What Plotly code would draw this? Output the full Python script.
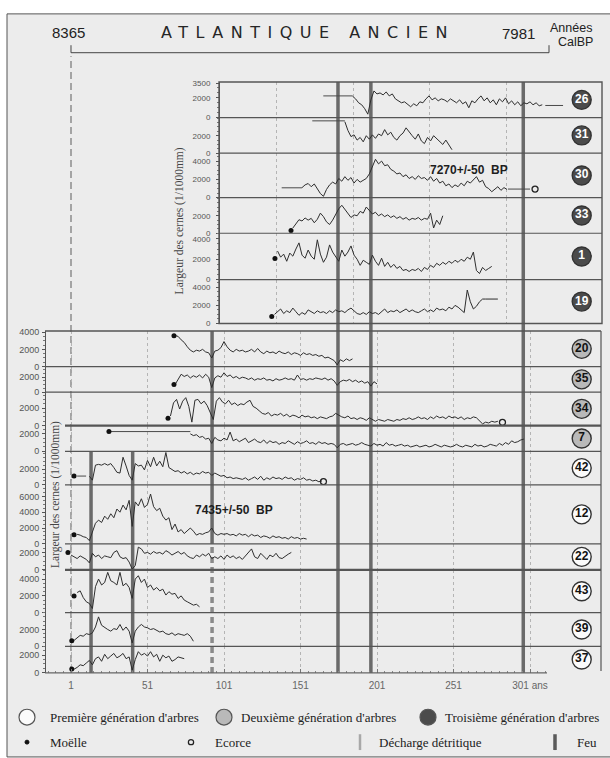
import plotly.graph_objects as go

# ---------------------------------------------------------------- data
# Ring-width series (1/1000 mm), one value every 2 years starting at *_start
w26_start = 185
w26 = [2170, 1900, 1500, 1300, 900, 350, 1800, 2700, 2400, 2500, 2300, 2600, 2200, 2400, 1900, 1700,
       1500, 1600, 1300, 1100, 1400, 1200, 1600, 1500, 1900, 2200, 1800, 2000, 1700, 1900, 1800, 1600,
       1900, 1700, 1500, 1800, 1400, 1600, 1000, 1700, 1500, 1900, 2200, 1700, 2000, 1500, 1800, 1300,
       1900, 1600, 2000, 1400, 1700, 1300, 1600, 1200, 1500, 1400, 1600, 1300, 1500, 1200, 1300]
w31_start = 180
w31 = [3600, 2600, 1900, 2100, 1500, 1800, 1300, 2000, 1600, 2100, 1700, 2200, 2000, 2700, 2100, 2400,
       1800, 1500, 2000, 2300, 2900, 2400, 2000, 1600, 2200, 1400, 1100, 1800, 1400, 2000, 1700, 1300,
       1000, 1500, 1000, 400]
w30_start = 152
w30 = [1100, 1400, 1550, 1200, 1500, 900, 450, 150, 900, 1400, 1700, 1500, 2100, 1800, 2300, 1900,
       2200, 1600, 2000, 1700, 1900, 2100, 2600, 3400, 4200, 3700, 4000, 3500, 3600, 3100, 2900, 2600,
       2700, 2300, 2500, 2100, 2300, 2000, 2400, 2100, 2200, 1900, 2300, 1800, 2100, 1600, 1800, 1300,
       1500, 1100, 1400, 1200, 1600, 1300, 1800, 1600, 2000, 2300, 1700, 1900, 1200, 1000, 650, 900,
       1200, 800, 1100, 900]
w33_start = 146
w33 = [600, 1100, 1550, 1400, 1750, 1500, 1700, 1200, 1600, 2300, 1900, 1300, 1000, 1500, 2200, 2800,
       3200, 2700, 2300, 1800, 2100, 2000, 2500, 2300, 3000, 2600, 2200, 2400, 2000, 2200, 1900, 2100,
       1800, 2000, 1700, 1900, 1600, 1800, 1500, 1700, 1600, 1800, 1500, 1700, 1600, 2300, 600, 1500,
       1000, 2000]
w1_start = 136
w1 = [2800, 2200, 2500, 1800, 2600, 2300, 3000, 3600, 2400, 2100, 2900, 2300, 2000, 3900, 2500, 1700,
      2200, 3400, 2700, 2200, 1800, 2900, 2300, 2700, 3300, 2400, 2000, 1400, 1900, 1700, 1500, 2400,
      1800, 1400, 2100, 1300, 1700, 1200, 1500, 1100, 1300, 900, 1000, 800, 1000, 900, 1100, 800,
      1200, 1000, 1400, 1200, 1600, 1400, 1700, 1500, 1800, 1600, 1900, 1700, 2000, 1800, 2200, 2000,
      2700, 900, 600, 1200, 900, 1100, 1300]
w19_start = 134
w19 = [1000, 1300, 1600, 1100, 1400, 1200, 1700, 1300, 900, 1200, 1000, 1500, 1300, 1100, 1400, 1200,
       1300, 1100, 1400, 1200, 1500, 1300, 1400, 1200, 1500, 1700, 1400, 1100, 1000, 1200, 1000, 1300,
       1100, 1200, 1000, 1300, 1600, 1200, 1400, 1300, 1500, 1200, 1400, 1600, 1300, 1500, 1300, 1200,
       1400, 1600, 1300, 1500, 1300, 1700, 1500, 1600, 1400, 1800, 1600, 2000, 1800, 1500, 1200, 3700,
       2400, 1600, 1900, 2400, 2700, 2700, 2700, 2700, 2700, 2700]
w20_start = 69
w20 = [3600, 3500, 3100, 2800, 2300, 1900, 1700, 1900, 1800, 2000, 1700, 1600, 1000, 1800, 1900, 2200,
       2900, 2300, 1900, 1700, 2000, 1800, 1900, 1700, 1800, 2000, 1700, 2100, 1700, 1500, 1800, 1600,
       1700, 1500, 1800, 1600, 1500, 1700, 1400, 1600, 1500, 1300, 1600, 1400, 1500, 1300, 1400, 1200,
       1300, 1000, 1100, 900, 700, 200, 800, 600, 900, 700, 900]
w35_start = 69
w35 = [1000, 1700, 2400, 2100, 2300, 1900, 2200, 2000, 2300, 1900, 2400, 2000, 600, 1900, 2200, 2000,
       2600, 2100, 2300, 1900, 2100, 1800, 2000, 1900, 1700, 1900, 1600, 1800, 1700, 1900, 1600, 1700,
       1500, 1800, 1600, 1700, 1900, 1700, 1800, 1600, 2300, 1700, 1800, 1600, 1800, 1700, 1900, 1800,
       1700, 1900, 1600, 1800, 1500, 900, 1400, 1600, 1500, 1700, 1400, 1600, 1300, 1500, 1200, 1400,
       800, 1400, 1100]
w34_start = 66
w34 = [1100, 2600, 3000, 1900, 2800, 3200, 2200, 400, 2900, 3000, 2500, 2800, 2300, 1500, 700, 2800,
       3200, 2700, 2500, 2900, 2400, 2600, 2300, 2500, 2400, 2700, 2900, 2200, 2000, 1700, 1400, 1300,
       1500, 1100, 1300, 1200, 1400, 1100, 1300, 1000, 1200, 1100, 900, 1200, 1000, 1100, 900, 1000,
       800, 1000, 900, 800, 1000, 1100, 1400, 1200, 1000, 900, 1100, 800, 900, 700, 900, 800,
       600, 900, 700, 500, 700, 600, 500, 700, 600, 500, 700, 600, 800, 700, 900, 700,
       800, 1000, 800, 900, 700, 1000, 800, 1100, 900, 1000, 800, 1100, 900, 1000, 800, 1000,
       700, 900, 800, 1000, 900, 600, 200, 400, 300, 500, 400, 500]
w7_start = 79
w7 = [2000, 1800, 1900, 1600, 1700, 1400, 1500, 900, 1600, 1300, 1200, 1500, 1300, 2200, 1200, 1400,
      1100, 1300, 1500, 1000, 1200, 1400, 1100, 1000, 1300, 900, 1200, 1000, 1100, 800, 1000, 900,
      1200, 1000, 800, 1100, 900, 1000, 1200, 900, 1000, 800, 1100, 900, 1000, 800, 900, 800,
      400, 800, 900, 700, 800, 900, 700, 800, 1000, 800, 700, 600, 900, 700, 800, 600,
      1000, 700, 800, 600, 700, 800, 600, 700, 500, 600, 700, 500, 600, 700, 500, 600,
      800, 600, 500, 700, 600, 500, 600, 800, 600, 500, 700, 600, 500, 800, 600, 700,
      500, 600, 800, 700, 600, 900, 700, 1000, 800, 1200, 1000, 1100, 1300, 1400]
w42_start = 13
w42 = [1100, 600, 2500, 2600, 2500, 2700, 2500, 2700, 2200, 1600, 1500, 3500, 2400, 1200, 600, 2700,
       2400, 2500, 1900, 3100, 2300, 3500, 2400, 3000, 2300, 4100, 2200, 2000, 1700, 1800, 1500, 1700,
       1400, 1600, 1300, 1500, 1400, 1700, 1500, 1600, 1200, 1500, 1300, 1100, 1200, 900, 1000, 800,
       900, 800, 700, 900, 600, 800, 1000, 700, 1100, 600, 900, 700, 1000, 800, 900, 700,
       1000, 800, 900, 600, 800, 700, 900, 600, 700, 500, 600, 400, 500]
w12_start = 5
w12 = [1200, 1100, 900, 800, 400, 1500, 2600, 3000, 2700, 3500, 3100, 3800, 3300, 4400, 4000, 4900,
       4300, 5500, 2200, 5300, 4800, 5700, 4600, 5000, 6300, 4700, 4200, 4500, 3500, 3000, 3300, 1800,
       2500, 1500, 1800, 1300, 1600, 2000, 1600, 1100, 1300, 1200, 1400, 1500, 2000, 1300, 1100, 1300,
       1200, 1300, 1100, 1200, 1000, 1300, 1100, 1200, 900, 1200, 1000, 1100, 800, 1000, 900, 700,
       1000, 800, 900, 700, 800, 600, 900, 700, 800, 600, 700, 600]
w22_start = 1
w22 = [1700, 1500, 1300, 1600, 1400, 1200, 800, 1900, 1500, 1700, 1300, 1600, 1500, 1400, 2000, 2200,
       1500, 1300, 1400, 900, 100, 500, 2600, 2400, 1900, 2000, 1800, 2100, 1900, 2000, 1800, 2200,
       2000, 1700, 1900, 2100, 1800, 2000, 1600, 1400, 1300, 1700, 1500, 1800, 1600, 1900, 1300, 1500,
       1300, 1600, 1200, 1700, 1400, 1600, 1300, 1500, 1200, 1600, 2000, 2400, 1500, 1300, 1900, 1600,
       1200, 1700, 1500, 1900, 1400, 1300, 1600, 1800, 2000]
w43_start = 5
w43 = [2400, 2600, 1800, 1300, 1100, 500, 3100, 4000, 3300, 3600, 4800, 3800, 3600, 3300, 4800, 3200,
       3500, 3000, 1700, 4000, 4400, 3600, 4000, 3000, 3300, 2700, 3000, 2600, 2800, 2100, 2500, 2200,
       2300, 1700, 2000, 1500, 1300, 1100, 900, 1000, 700]
w39_start = 3
w39 = [700, 1000, 1300, 1200, 1500, 1400, 1600, 2300, 3500, 2500, 2200, 2000, 1800, 2100, 2000, 2600,
       1900, 2300, 1800, 400, 1800, 2300, 2600, 2300, 2200, 2000, 2100, 1900, 1700, 1800, 1500, 1400,
       1600, 1300, 1500, 1400, 1300, 1500, 1200, 600]
w37_start = 3
w37 = [400, 600, 900, 800, 1100, 1400, 900, 1600, 1800, 1300, 2100, 1600, 1900, 2200, 1700, 1900,
       2200, 1600, 1800, 300, 1500, 2400, 2000, 2200, 1900, 2400, 1800, 2100, 1300, 2000, 1700, 1900,
       1300, 1500, 1800, 1700, 1600]

# pith (Moëlle) and bark (Ecorce) positions: tree, year, width
pith_trees = ['33', '1', '19', '20', '35', '34', '7', '42', '12', '22', '43', '39', '37']
pith_years = [144.8, 134.3, 132.2, 68.3, 68.3, 64.4, 25.8, 3.0, 3.0, -1.0, 3.0, 1.5, 1.5]
pith_vals = [300, 2070, 760, 3570, 1000, 840, 2260, 1120, 1160, 2000, 2000, 670, 420]
bark_trees = ['30', '34', '42']
bark_years = [304.3, 283.0, 166.0]
bark_vals = [940, 380, 425]

# estimated missing-ring extensions: tree, from year, to year, width
ext_trees = ['26', '26', '31', '30', '30', '7', '42']
ext_from = [165.9, 311.0, 158.7, 138.7, 286.6, 27.0, 5.0]
ext_to = [185.0, 322.6, 180.0, 152.0, 301.0, 79.0, 13.0]
ext_vals = [2200, 1230, 3700, 1080, 940, 2260, 1120]

# events (years): fires / detrital discharges
event_low_years = [14.1, 41.3]          # visible in first-generation rows
event_all_years = [175.5, 197.0, 296.6]  # visible across both panels
event_mid_years = [93.2]                 # lower panel

# radiocarbon dates
c14_trees = ['30', '12']
c14_text = ['7270+/-50\u00a0\u00a0BP', '7435+/-50\u00a0\u00a0BP']
c14_years = [234.3, 80.5]
c14_vals = [3030, 4325]

# x tick labels
x_tickvals = [1, 51, 101, 151, 201, 251, 301]
x_ticktext = ['1', '51', '101', '151', '201', '251', '301 ans']

# ---------------------------------------------------------------- layout helpers
W, H = 610, 758
def px(x):
    return x / W
def py(y):
    return 1 - y / H

X0_PX, PX_PER_YEAR = 71.0, 1.53
def year_at(xpx):
    return 1.0 + (xpx - X0_PX) / PX_PER_YEAR

SANS = "Liberation Sans, Arial, sans-serif"
SERIF = "Liberation Serif, Times New Roman, serif"
INK = "#2e2e2e"
BG = "#ececec"

# row layout: tree, panel, top px, bottom px, px per 1000 units, tick values, generation
rows = [
    ('20', 'low', 331.0, 367.0, 8.75, [0, 2000, 4000], 2),
    ('35', 'low', 367.0, 392.7, 7.5, [0, 2000], 2),
    ('34', 'low', 392.7, 426.7, 8.85, [0, 2000], 2),
    ('7', 'low', 426.7, 452.7, 8.85, [0, 2000], 2),
    ('42', 'low', 452.7, 486.7, 8.0, [0, 2000], 1),
    ('12', 'low', 486.7, 546.3, 8.0, [0, 2000, 4000, 6000], 1),
    ('22', 'low', 546.3, 572.7, 8.85, [0, 2000], 1),
    ('43', 'low', 572.7, 616.0, 8.5, [0, 2000, 4000], 1),
    ('39', 'low', 616.0, 650.0, 8.5, [0, 2000], 1),
    ('37', 'low', 650.0, 676.7, 8.85, [0, 2000], 1),
    ('26', 'top', 79.0, 115.0, 10.0, [0, 2000, 3500], 3),
    ('31', 'top', 115.0, 151.0, 8.85, [0, 2000], 3),
    ('30', 'top', 151.0, 196.0, 9.25, [0, 2000, 4000], 3),
    ('33', 'top', 196.0, 232.0, 8.85, [0, 2000], 3),
    ('1', 'top', 232.0, 279.0, 10.35, [0, 2000, 4000], 3),
    ('19', 'top', 279.0, 323.3, 9.15, [0, 2000, 4000], 3),
]

series = {
    '26': (w26_start, w26), '31': (w31_start, w31), '30': (w30_start, w30),
    '33': (w33_start, w33), '1': (w1_start, w1), '19': (w19_start, w19),
    '20': (w20_start, w20), '35': (w35_start, w35), '34': (w34_start, w34),
    '7': (w7_start, w7), '42': (w42_start, w42), '12': (w12_start, w12),
    '22': (w22_start, w22), '43': (w43_start, w43), '39': (w39_start, w39),
    '37': (w37_start, w37),
}

gen_fill = {1: '#fbfbfb', 2: '#b9b9b9', 3: '#4b4b4b'}
gen_text = {1: '#111111', 2: '#111111', 3: '#ffffff'}

fig = go.Figure()
layout = {}
axes = {}
ymax_of = {}
for i, (tid, panel, top, bot, ppk, tv, gen) in enumerate(rows, start=1):
    key = 'yaxis' if i == 1 else 'yaxis%d' % i
    ref = 'y' if i == 1 else 'y%d' % i
    ymax = (bot - top) / ppk * 1000.0
    ymax_of[tid] = ymax
    low = panel == 'low'
    layout[key] = dict(
        domain=[py(bot), py(top)], range=[0, ymax], anchor='free',
        position=px(45 if low else 219), side='left',
        showline=True, linecolor='#555555', linewidth=1,
        ticks='outside', ticklen=3, tickcolor='#555555',
        tickvals=tv, ticktext=[str(v) for v in tv],
        tickfont=dict(family=SANS, size=9 if low else 8, color='#555555'),
        ticklabelstandoff=1 if low else 4,
        minor=dict(tick0=0, dtick=500, ticks='outside', ticklen=2, tickcolor='#777777'),
        showgrid=False, zeroline=False, fixedrange=True,
    )
    axes[tid] = ('x' if low else 'x2', ref)

# series lines
for tid, (start, vals) in series.items():
    xa, ya = axes[tid]
    fig.add_trace(go.Scatter(
        x=[start + 2 * k for k in range(len(vals))], y=vals, mode='lines',
        line=dict(color=INK, width=1), xaxis=xa, yaxis=ya,
        hoverinfo='skip', showlegend=False))

# extension lines
for tid, a, b, v in zip(ext_trees, ext_from, ext_to, ext_vals):
    xa, ya = axes[tid]
    fig.add_trace(go.Scatter(
        x=[a, b], y=[v, v], mode='lines',
        line=dict(color='#4a4a4a', width=1, dash='dash' if tid == '42' else 'solid'),
        xaxis=xa, yaxis=ya, hoverinfo='skip', showlegend=False))

# pith markers
for tid, yr, v in zip(pith_trees, pith_years, pith_vals):
    xa, ya = axes[tid]
    fig.add_trace(go.Scatter(
        x=[yr], y=[v], mode='markers', marker=dict(color='#111111', size=5),
        xaxis=xa, yaxis=ya, hoverinfo='skip', showlegend=False))

# bark markers
for tid, yr, v in zip(bark_trees, bark_years, bark_vals):
    xa, ya = axes[tid]
    fig.add_trace(go.Scatter(
        x=[yr], y=[v], mode='markers',
        marker=dict(symbol='circle-open', color='#222222', size=6, line=dict(width=1.3)),
        xaxis=xa, yaxis=ya, hoverinfo='skip', showlegend=False))

# tree id circles
label_year = year_at(581.7)
for tid, panel, top, bot, ppk, tv, gen in rows:
    xa, ya = axes[tid]
    fig.add_trace(go.Scatter(
        x=[label_year], y=[ymax_of[tid] / 2], mode='markers+text',
        marker=dict(size=19, color=gen_fill[gen], line=dict(color='#333333', width=1.4)),
        text=['<b>%s</b>' % tid], textposition='middle center',
        textfont=dict(family=SANS, size=12, color=gen_text[gen]),
        xaxis=xa, yaxis=ya, hoverinfo='skip', showlegend=False))

# x axes
layout['xaxis'] = dict(
    domain=[px(45), px(601)], range=[year_at(45), year_at(601)], anchor='y10',
    tickvals=x_tickvals, ticktext=x_ticktext, ticks='inside', ticklen=4, tickcolor='#777777',
    tickfont=dict(family=SANS, size=10, color='#666666'), ticklabelstandoff=5,
    minor=dict(tickvals=list(range(-14, 312, 5)), ticks='inside', ticklen=2, tickcolor='#888888'),
    showgrid=True, gridcolor='#b4b4b4', griddash='3px,3px', gridwidth=1,
    showline=False, zeroline=False, fixedrange=True)
layout['xaxis2'] = dict(
    domain=[px(219), px(602)], range=[year_at(219), year_at(602)], anchor='y16',
    tickvals=[135.5, 185.5, 235.5, 285.5], showticklabels=False, ticks='',
    showgrid=True, gridcolor='#b4b4b4', griddash='3px,3px', gridwidth=1,
    showline=False, zeroline=False, fixedrange=True)

shapes = []
# frame background
shapes.append(dict(type='rect', xref='paper', yref='paper', x0=px(7), x1=px(615), y0=py(762), y1=py(10),
                   fillcolor=BG, line=dict(color='#555555', width=1), layer='below'))
# event lines
EV = '#6a6a6a'
for yr in event_all_years:
    shapes.append(dict(type='line', xref='x', yref='paper', x0=yr, x1=yr, y0=py(677), y1=py(79),
                       line=dict(color=EV, width=3.5), layer='below'))
for yr in event_low_years:
    shapes.append(dict(type='line', xref='x', yref='paper', x0=yr, x1=yr, y0=py(677), y1=py(452.7),
                       line=dict(color=EV, width=3.5), layer='below'))
for yr in event_mid_years:
    shapes.append(dict(type='line', xref='x', yref='paper', x0=yr, x1=yr, y0=py(546.3), y1=py(331),
                       line=dict(color=EV, width=3.5), layer='below'))
    shapes.append(dict(type='line', xref='x', yref='paper', x0=yr, x1=yr, y0=py(677), y1=py(546.3),
                       line=dict(color='#8a8a8a', width=3.5, dash='6px,4px'), layer='below'))
# year 1 reference line
shapes.append(dict(type='line', xref='x', yref='paper', x0=1, x1=1, y0=py(677), y1=py(53),
                   line=dict(color='#8c8c8c', width=1.5, dash='7px,4px'), layer='below'))

def hline(y, x0, x1, w=1.2, c='#555555'):
    shapes.append(dict(type='line', xref='paper', yref='paper', x0=px(x0), x1=px(x1), y0=py(y), y1=py(y),
                       line=dict(color=c, width=w)))

def vline(x, y0, y1, w=1.2, c='#555555'):
    shapes.append(dict(type='line', xref='paper', yref='paper', x0=px(x), x1=px(x), y0=py(y0), y1=py(y1),
                       line=dict(color=c, width=w)))

# top panel box and row separators
shapes.append(dict(type='rect', xref='paper', yref='paper', x0=px(219), x1=px(602), y0=py(323.3), y1=py(79),
                   line=dict(color='#555555', width=1.4)))
for (tid, panel, top, bot, ppk, tv, gen) in rows:
    if panel == 'top' and bot < 323:
        hline(bot, 219, 602)
# lower panel
hline(331, 45, 601, 1.5)
vline(601, 331, 675)
hline(677, 45, 547, 1.2, '#666666')
for (tid, panel, top, bot, ppk, tv, gen) in rows:
    if panel == 'low' and bot < 676:
        start = 45 if bot < 400 else 65
        hline(bot, start, 601, 2.2 if tid in ('34', '22') else 1.2)

# bracket at top
shapes.append(dict(type='path', xref='paper', yref='paper',
                   path='M %f %f L %f %f L %f %f L %f %f' % (px(71), py(41.7), px(71), py(49.3),
                                                            px(549), py(49.3), px(549), py(41.7)),
                   line=dict(color='#444444', width=1)))

# legend symbols
def circ(cx, cy, r, fill, lc='#555555', lw=1.2):
    shapes.append(dict(type='circle', xref='paper', yref='paper', x0=px(cx - r), x1=px(cx + r),
                       y0=py(cy + r), y1=py(cy - r), fillcolor=fill, line=dict(color=lc, width=lw)))

circ(27, 721.7, 8, '#fbfbfb')
circ(224, 721.7, 8, '#b9b9b9')
circ(428, 721.7, 8, '#4b4b4b')
circ(27, 747, 2, '#111111', '#111111', 1)
circ(191, 747, 2.6, 'rgba(0,0,0,0)', '#222222', 1.3)
vline(360, 739, 755, 2.5, '#a8a8a8')
vline(555, 739, 755, 3.5, '#5a5a5a')

annotations = []
def txt(x, y, s, size, family=SANS, color='#222222', xanchor='center', angle=0):
    annotations.append(dict(xref='paper', yref='paper', x=px(x), y=py(y), text=s, showarrow=False,
                            xanchor=xanchor, yanchor='middle', textangle=angle,
                            font=dict(family=family, size=size, color=color)))

# header
txt(68, 29, '8365', 15)
txt(308, 29, '<span style="letter-spacing:7.5px">ATLANTIQUE ANCIEN</span>', 16,
    family='DejaVu Sans, Liberation Sans, sans-serif', color='#262626')
txt(518, 30, '7981', 15)
txt(571, 24, 'Années', 12.5)
txt(575, 38, 'CalBP', 12.5)

# axis titles
txt(179, 220, 'Largeur des cernes (1/1000mm)', 11.5, SERIF, '#444444', angle=-90)
txt(55, 497, 'Largeur des cernes (1/1000mm)', 11.5, SERIF, '#444444', angle=-90)

# legend texts
LEG = 13
txt(48, 722, "Première génération d'arbres", LEG, SERIF, '#222222', 'left')
txt(239, 722, "Deuxième génération d'arbres", LEG, SERIF, '#222222', 'left')
txt(443, 722, "Troisième génération d'arbres", LEG, SERIF, '#222222', 'left')
txt(48, 747, 'Moëlle', LEG, SERIF, '#222222', 'left')
txt(213, 747, 'Ecorce', LEG, SERIF, '#222222', 'left')
txt(377, 747, 'Décharge détritique', LEG, SERIF, '#222222', 'left')
txt(575, 747, 'Feu', LEG, SERIF, '#222222', 'left')

# radiocarbon labels (in data coordinates of their row)
for tid, s, yr, v in zip(c14_trees, c14_text, c14_years, c14_vals):
    xa, ya = axes[tid]
    annotations.append(dict(xref=xa, yref=ya, x=yr, y=v, text='<b>%s</b>' % s, showarrow=False,
                            xanchor='left', yanchor='middle',
                            font=dict(family=SANS, size=12, color='#1e1e1e')))

layout.update(dict(
    width=W, height=H, margin=dict(l=0, r=0, t=0, b=0),
    paper_bgcolor='#ffffff', plot_bgcolor='rgba(0,0,0,0)',
    showlegend=False, shapes=shapes, annotations=annotations,
))
fig.update_layout(**layout)
fig.write_html('out.html', config={'displayModeBar': False},
               post_script="document.body.style.margin='0';document.body.style.padding='0';"
                           "document.documentElement.style.overflow='hidden';")
